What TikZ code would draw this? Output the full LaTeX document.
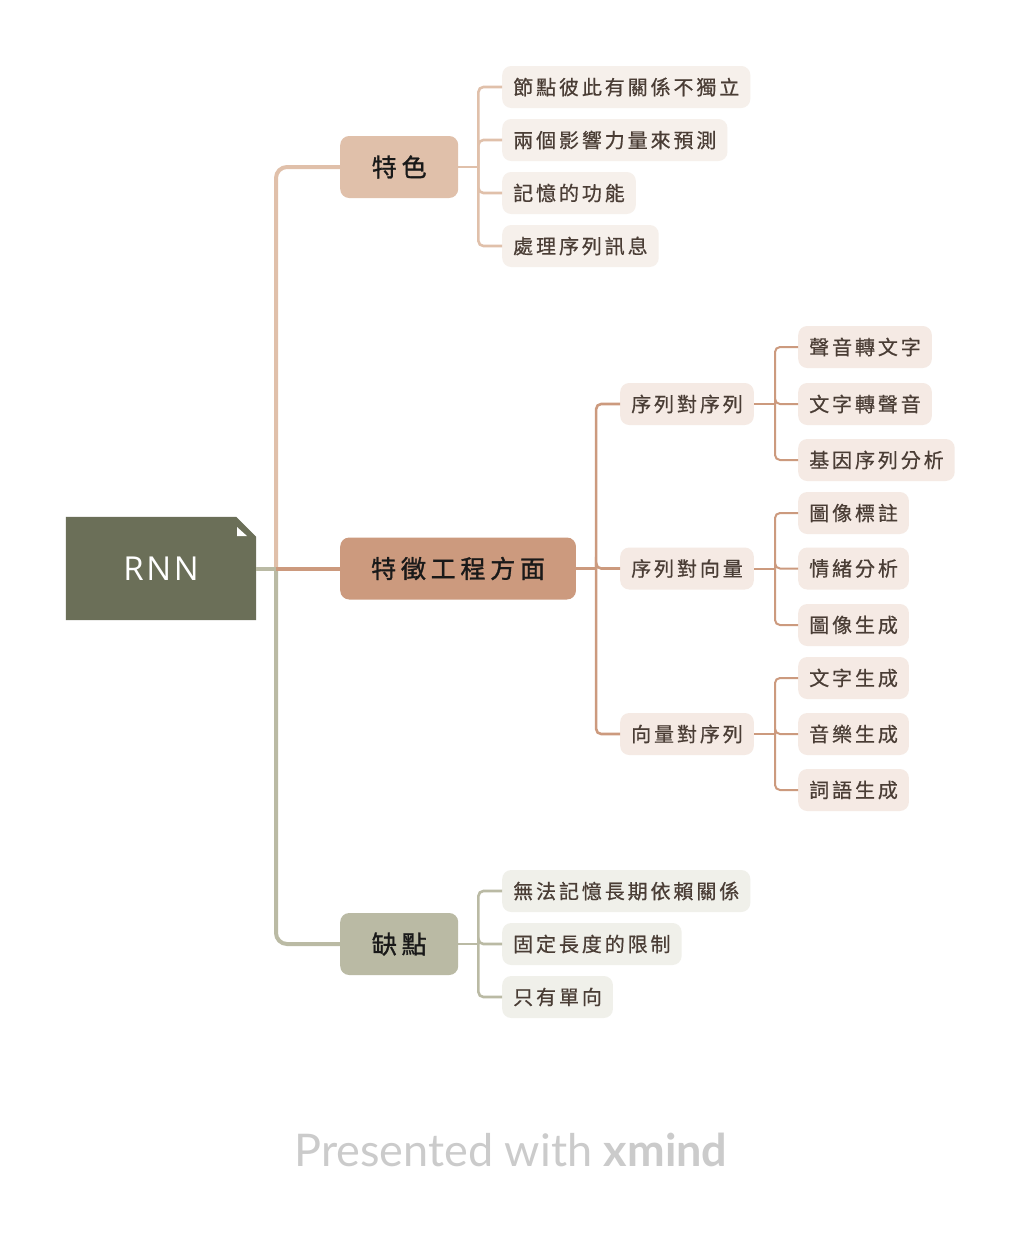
\documentclass[tikz,border=0pt]{standalone}
\usepackage{fontspec}
\newfontfamily\cjk[LetterSpace=14.5,FakeBold=0.6]{Noto Sans CJK TC}
\newfontfamily\cjkb[LetterSpace=19,FakeBold=1.2]{Noto Sans CJK TC}
\newfontfamily\rnnfont[LetterSpace=8]{Open Sans}
\newfontfamily\footfont{Lato}
\definecolor{rnnc}{HTML}{6B6F58}
\definecolor{ca}{HTML}{E0C0AA}
\definecolor{cb}{HTML}{CC9A7E}
\definecolor{cc}{HTML}{BABAA4}
\definecolor{fa}{HTML}{F6F0EB}
\definecolor{fb}{HTML}{F5EAE4}
\definecolor{fc}{HTML}{F0F0EA}
\definecolor{txt}{HTML}{4A3D35}
\definecolor{footc}{HTML}{CBCBCB}
\tikzset{
  maintopic/.style={rounded corners=9pt, minimum height=62pt, inner xsep=31pt, inner ysep=0pt,
    anchor=west, font=\cjkb\fontsize{25}{30}\selectfont, text=black!90},
  subtopic/.style={rounded corners=9pt, minimum height=42pt, inner xsep=11pt, inner ysep=0pt,
    anchor=west, font=\cjk\fontsize{20}{24}\selectfont, text=txt},
  trunk/.style={line width=4pt, rounded corners=11pt},
  twig/.style={line width=2.6pt, rounded corners=5pt},
  twigb/.style={line width=2pt, rounded corners=5pt},
}
\begin{document}
\begin{tikzpicture}[x=1pt,y=-1pt]
\useasboundingbox[fill=white] (0,0) rectangle (1024,1250);

% central topic
\node[minimum width=190pt, minimum height=103pt, inner sep=0pt] (rnn) at (161,568.5) {};
\fill[rnnc] (rnn.north west) -- ([xshift=-20pt]rnn.north east) -- ([yshift=-20pt]rnn.north east) -- (rnn.south east) -- (rnn.south west) -- cycle;
\fill[white] (237,527) -- (237,536) -- (247,536) -- cycle;
\node[text=white, font=\rnnfont\fontsize{33}{36}\selectfont] (rnnlabel) at (rnn.center) {RNN};

% main topics
\node[maintopic, fill=ca, minimum width=118pt] (tese) at (340,167) {特色};
\node[maintopic, fill=cb] (tezheng) at (340,568.5) {特徵工程方面};
\node[maintopic, fill=cc, minimum width=118pt] (quedian) at (340,944) {缺點};

\coordinate (j) at (276,568.5);
\draw[trunk, draw=ca] (j) |- (tese.west);
\draw[trunk, draw=cc] (j) |- (quedian.west);
\draw[line width=4pt, draw=cb] (j) -- (tezheng.west);
\draw[line width=4pt, draw=cc] (rnn.east) -- (j);

% branch 1
\node[subtopic, fill=fa] (a1) at (502,87) {節點彼此有關係不獨立};
\node[subtopic, fill=fa] (a2) at (502,140) {兩個影響力量來預測};
\node[subtopic, fill=fa] (a3) at (502,193) {記憶的功能};
\node[subtopic, fill=fa] (a4) at (502,246) {處理序列訊息};
\coordinate (ja) at ([xshift=20pt]tese.east);
\draw[twig, draw=ca] (tese.east) -- (ja);
\foreach \n in {a1,a2,a3,a4} \draw[twig, draw=ca] (ja) |- (\n.west);

% branch 2
\node[subtopic, fill=fb] (b1) at (620,404) {序列對序列};
\node[subtopic, fill=fb] (b2) at (620,568.5) {序列對向量};
\node[subtopic, fill=fb] (b3) at (620,734) {向量對序列};
\coordinate (jb) at ([xshift=20pt]tezheng.east);
\draw[twig, draw=cb] (tezheng.east) -- (jb);
\foreach \n in {b1,b2,b3} \draw[twig, draw=cb] (jb) |- (\n.west);

\node[subtopic, fill=fb] (b11) at (798,347) {聲音轉文字};
\node[subtopic, fill=fb] (b12) at (798,404) {文字轉聲音};
\node[subtopic, fill=fb] (b13) at (798,460) {基因序列分析};
\node[subtopic, fill=fb] (b21) at (798,513) {圖像標註};
\node[subtopic, fill=fb] (b22) at (798,568.5) {情緒分析};
\node[subtopic, fill=fb] (b23) at (798,625) {圖像生成};
\node[subtopic, fill=fb] (b31) at (798,678) {文字生成};
\node[subtopic, fill=fb] (b32) at (798,734) {音樂生成};
\node[subtopic, fill=fb] (b33) at (798,790) {詞語生成};
\foreach \p in {1,2,3}{
  \coordinate (jb\p) at ([xshift=21pt]b\p.east);
  \draw[twigb, draw=cb] (b\p.east) -- (jb\p);
  \foreach \q in {1,2,3} \draw[twigb, draw=cb] (jb\p) |- (b\p\q.west);
}

% branch 3
\node[subtopic, fill=fc] (c1) at (502,891) {無法記憶長期依賴關係};
\node[subtopic, fill=fc] (c2) at (502,944) {固定長度的限制};
\node[subtopic, fill=fc] (c3) at (502,997) {只有單向};
\coordinate (jc) at ([xshift=20pt]quedian.east);
\draw[twig, draw=cc] (quedian.east) -- (jc);
\foreach \n in {c1,c2,c3} \draw[twig, draw=cc] (jc) |- (\n.west);

% footer
\node[text=footc, font=\footfont\fontsize{45}{50}\selectfont] (foot) at (511,1150) {Presented with \textbf{xmind}};
\end{tikzpicture}
\end{document}
